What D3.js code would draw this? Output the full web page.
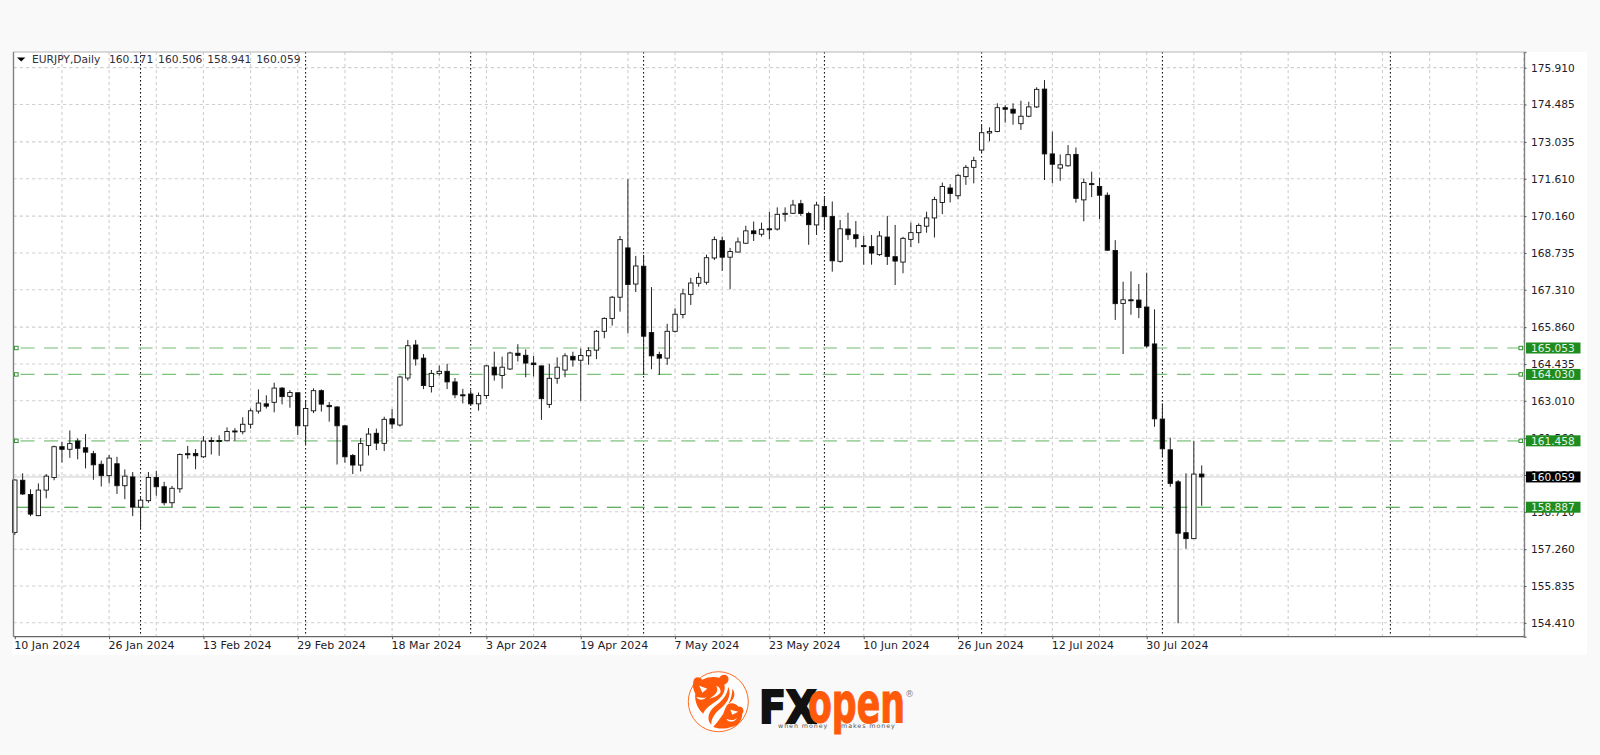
<!DOCTYPE html>
<html>
<head>
<meta charset="utf-8">
<script src="https://cdn.jsdelivr.net/npm/d3@7/dist/d3.min.js"></script>
<style>
html,body{margin:0;padding:0;background:#f9f9f9;overflow:hidden}
svg{display:block}
text{font-family:"DejaVu Sans",sans-serif}
</style>
</head>
<body>
<svg id="c" width="1600" height="755"></svg>
<script>
const symbolTitle = "EURJPY,Daily";
const headerValues = ["160.171","160.506","158.941","160.059"];
const priceTicks = [175.910,174.485,173.035,171.610,170.160,168.735,167.310,165.860,164.435,163.010,161.560,160.135,158.710,157.260,155.835,154.410];
const dateTickIndex = [0,12,24,36,48,60,72,84,96,108,120,132,144];
const dateTickLabels = ["10 Jan 2024","26 Jan 2024","13 Feb 2024","29 Feb 2024","18 Mar 2024","3 Apr 2024","19 Apr 2024","7 May 2024","23 May 2024","10 Jun 2024","26 Jun 2024","12 Jul 2024","30 Jul 2024"];
const periodSeparators = [16,37,58,80,103,123,146,175];
const levelValues = [165.053,164.030,161.458,158.887];
const lastPrice = 160.059;

const opens = [157.91,159.93,159.38,158.56,159.55,160.04,161.23,161.13,161.45,161.19,160.96,160.55,160.11,160.57,159.72,160.06,158.89,159.14,160.04,159.68,159.06,159.60,160.96,160.97,160.84,161.47,161.47,161.46,161.84,161.81,162.10,162.61,162.89,162.95,163.50,163.18,163.32,162.04,162.62,163.40,162.83,162.77,162.04,160.89,160.52,161.28,161.75,161.36,162.31,162.07,163.89,165.17,164.66,163.56,164.06,164.15,163.74,163.24,163.27,162.89,163.21,164.31,163.99,164.24,164.85,164.77,164.47,164.36,162.87,163.88,164.20,164.73,164.58,164.75,164.97,165.70,166.20,167.02,168.93,167.53,168.22,165.65,164.80,164.66,165.70,166.35,167.13,167.56,167.60,168.54,169.21,168.57,168.77,169.11,169.59,169.46,169.67,169.66,170.23,170.27,170.64,170.26,169.82,170.53,170.15,168.41,169.66,169.44,169.02,168.98,168.67,169.35,168.59,168.38,169.26,169.52,169.77,170.09,170.69,171.25,170.95,171.69,172.05,172.72,173.38,173.44,174.36,174.30,173.74,174.03,174.39,175.08,172.57,172.02,172.11,172.55,170.79,171.42,171.31,170.97,168.83,166.78,166.92,166.91,166.64,165.21,162.30,161.11,159.87,157.90,157.67,160.171];
const closes = [159.94,159.40,158.62,159.55,160.09,161.23,161.13,161.35,161.17,161.02,160.53,160.11,160.79,159.72,160.09,158.89,159.16,160.04,159.68,159.06,159.62,160.93,160.92,160.88,161.45,161.45,161.46,161.82,161.81,162.10,162.62,162.92,162.80,163.50,163.17,163.33,162.04,162.71,163.40,162.88,162.78,162.04,160.84,160.52,161.35,161.72,161.37,162.29,162.11,163.93,165.14,164.63,163.60,164.07,164.15,163.74,163.24,163.21,162.89,163.21,164.36,164.01,164.31,164.86,164.77,164.47,164.41,163.09,163.88,164.31,164.75,164.59,164.76,164.95,165.70,166.20,167.02,169.25,167.51,168.23,165.51,164.75,164.66,165.70,166.36,167.15,167.57,167.78,168.55,169.25,168.57,168.79,169.16,169.59,169.48,169.65,169.65,170.23,170.27,170.59,170.26,169.83,170.59,170.14,168.43,169.67,169.44,169.29,168.98,168.73,169.39,168.60,168.42,169.30,169.52,169.80,170.09,170.80,171.31,171.04,171.74,172.05,172.31,173.39,173.44,174.36,174.30,174.15,174.03,174.39,175.07,172.57,172.17,172.15,172.54,170.85,171.46,171.39,170.97,168.84,166.77,166.92,166.90,166.62,165.13,162.31,161.15,159.81,157.88,157.67,160.17,160.059];
const highs = [159.97,160.20,159.58,159.81,160.17,161.27,161.42,161.86,161.55,161.72,161.07,160.69,160.91,160.84,160.35,160.25,159.27,160.25,160.30,159.87,159.71,160.97,161.26,161.14,161.64,161.60,161.67,161.98,161.95,162.37,162.71,163.45,163.22,163.71,163.54,163.42,163.33,163.00,163.49,163.45,162.96,162.79,162.07,160.95,161.57,161.95,161.93,162.39,162.69,163.98,165.36,165.36,164.82,164.20,164.37,164.44,163.89,163.47,163.43,163.33,164.40,164.91,164.72,164.91,165.20,165.00,164.75,164.37,164.44,164.69,164.85,164.91,165.04,165.08,165.75,166.24,167.07,169.39,171.59,168.62,168.66,167.41,164.91,165.99,166.59,167.35,167.77,167.97,168.67,169.37,169.37,168.93,169.33,169.79,169.95,169.91,170.33,170.50,170.50,170.79,170.79,170.33,170.72,170.89,170.73,170.01,170.29,169.97,169.40,169.43,169.58,170.17,169.82,169.36,169.91,169.88,170.33,170.91,171.46,171.40,171.79,172.14,172.46,173.69,173.60,174.53,174.46,174.53,174.63,174.59,175.15,175.43,173.43,172.55,172.91,172.82,171.62,171.88,171.65,171.08,169.23,167.62,168.02,167.53,167.97,166.55,162.91,161.58,159.94,160.20,161.46,160.506];
const lows = [157.81,159.36,158.54,158.54,159.23,159.93,160.62,160.80,160.74,160.39,159.95,159.69,159.81,159.40,159.20,158.54,158.03,159.06,159.33,158.96,158.88,159.45,160.76,160.36,160.79,160.93,160.88,161.44,161.46,161.71,161.93,162.51,162.71,162.56,162.87,162.74,161.68,161.33,162.53,162.59,162.20,160.54,160.61,160.17,160.27,160.89,161.10,161.06,161.92,162.01,163.79,164.37,163.46,163.33,163.98,163.46,163.11,162.91,162.81,162.63,163.08,163.79,163.48,164.20,164.53,163.92,163.95,162.27,162.73,163.67,163.92,164.33,163.00,164.40,164.62,165.43,165.92,166.46,165.62,167.22,164.01,164.23,164.01,164.40,165.65,166.20,166.72,167.43,167.51,168.46,168.04,167.33,168.75,169.08,169.20,169.37,169.27,169.60,169.95,170.24,170.17,169.05,169.43,169.62,168.01,168.36,169.24,168.95,168.28,168.28,168.62,168.27,167.49,167.95,168.96,169.11,169.52,169.33,170.24,170.69,170.81,171.37,171.43,172.62,173.06,173.41,173.78,173.70,173.50,173.99,174.35,171.56,171.43,171.53,172.08,170.68,169.96,170.90,170.04,168.82,166.14,164.82,166.34,166.21,165.06,162.00,160.84,159.68,154.39,157.28,157.67,158.941];

const svg = d3.select("#c");
const leftX = 13.5, rightX = 1524, topY = 52, bottomY = 636.7;
const x = d3.scaleLinear().domain([0,151]).range([14.8,1201.7]);
const y = d3.scaleLinear().domain([153.872,176.517]).range([bottomY,topY]);
const lastIndexOnScreen = Math.floor(x.invert(rightX));
const bodyW = 4.4;

svg.append("rect").attr("x",leftX-1).attr("y",topY).attr("width",1587-leftX+1).attr("height",655-topY).attr("fill","#fff");
const chart = svg.append("g").style("filter","blur(0.3px)");

// grid
chart.append("g").selectAll("line").data(priceTicks).join("line")
  .attr("x1",leftX).attr("x2",rightX).attr("y1",d=>y(d)).attr("y2",d=>y(d))
  .attr("stroke","#cfcfcf").attr("stroke-width",1.1).attr("stroke-dasharray","3.2,3");
chart.append("g").selectAll("line").data(d3.range(6,lastIndexOnScreen+1,6)).join("line")
  .attr("x1",d=>x(d)).attr("x2",d=>x(d)).attr("y1",topY).attr("y2",bottomY)
  .attr("stroke","#cfcfcf").attr("stroke-width",1.1).attr("stroke-dasharray","3,3");

// period separators
chart.append("g").selectAll("line").data(periodSeparators).join("line")
  .attr("x1",d=>x(d)).attr("x2",d=>x(d)).attr("y1",topY).attr("y2",bottomY)
  .attr("stroke","#000").attr("stroke-width",1).attr("stroke-dasharray","1.6,2.4");

// bid line
chart.append("line").attr("x1",leftX).attr("x2",rightX).attr("y1",y(lastPrice)).attr("y2",y(lastPrice))
  .attr("stroke","#cccccc").attr("stroke-width",1);

// horizontal levels
const levelStroke = ["#a3d2a3","#7cc27c","#a3d2a3","#2f942f"];
const levelWidth = [1.7,1.2,1.7,1.1];
chart.append("g").selectAll("line").data(levelValues).join("line")
  .attr("x1",(d,i)=>i===3?leftX+3.5:leftX+7).attr("x2",rightX-4)
  .attr("y1",d=>y(d)).attr("y2",d=>y(d))
  .attr("stroke",(d,i)=>levelStroke[i]).attr("stroke-width",(d,i)=>levelWidth[i])
  .attr("stroke-dasharray","14,9.6").attr("stroke-dashoffset",0);
// anchors
const anchored = levelValues.slice(0,3);
chart.append("g").selectAll("rect").data(anchored.flatMap(v=>[[leftX+1,v],[rightX-5,v]])).join("rect")
  .attr("x",d=>d[0]).attr("y",d=>y(d[1])-1.7).attr("width",3.6).attr("height",3.4)
  .attr("fill","#fff").attr("stroke","#2f942f").attr("stroke-width",1);

// candles
const n = opens.length;
const cdata = d3.range(n);
chart.append("g").selectAll("line").data(cdata).join("line")
  .attr("x1",i=>x(i)).attr("x2",i=>x(i)).attr("y1",i=>y(highs[i])).attr("y2",i=>y(lows[i]))
  .attr("stroke","#222").attr("stroke-width",1);
chart.append("g").selectAll("rect").data(cdata).join("rect")
  .attr("x",i=>x(i)-bodyW/2)
  .attr("y",i=>y(Math.max(opens[i],closes[i])))
  .attr("width",bodyW)
  .attr("height",i=>Math.max(1,Math.abs(y(opens[i])-y(closes[i]))))
  .attr("fill",i=>closes[i]>=opens[i]?"#fff":"#000")
  .attr("stroke","#111").attr("stroke-width",0.9);

// frame
svg.append("path").attr("d",`M${leftX},${topY}H${rightX}`).attr("stroke","#b5b5b5").attr("stroke-width",1).attr("fill","none");

// axes
const yAxis = d3.axisRight(y).tickValues(priceTicks).tickSize(2.5).tickPadding(4.5).tickFormat(d3.format(".3f"));
const gy = svg.append("g").attr("transform",`translate(${rightX},0)`).call(yAxis);
gy.select(".domain").attr("stroke","#808080").attr("stroke-width",1.4);
gy.selectAll("text").attr("font-size",10.6).attr("fill","#1c1c2a").attr("font-family","DejaVu Sans");
gy.selectAll(".tick line").attr("stroke","#555");

const xAxis = d3.axisBottom(x).tickValues(dateTickIndex).tickSize(2.5).tickPadding(2).tickFormat((d,i)=>dateTickLabels[i]);
const gx = svg.append("g").attr("transform",`translate(0,${bottomY})`).call(xAxis);
gx.select(".domain").attr("d",`M${leftX},0H${rightX}`).attr("stroke","#666").attr("stroke-width",1.2);
gx.selectAll("text").attr("text-anchor","start").attr("dx",-1).attr("font-size",11).attr("fill","#1c1c2a").attr("font-family","DejaVu Sans");
gx.selectAll(".tick line").attr("stroke","#555");
svg.append("line").attr("x1",leftX).attr("x2",leftX).attr("y1",topY).attr("y2",bottomY).attr("stroke","#808080").attr("stroke-width",1.4);

// price tags
const tags = levelValues.map(v=>({v,fill:"#1f8c1f",txt:"#e4f3e4"})).concat([{v:lastPrice,fill:"#000",txt:"#f2f2f2"}]);
const tagG = svg.append("g").selectAll("g").data(tags).join("g").attr("transform",d=>`translate(1526,${y(d.v)})`);
tagG.append("rect").attr("x",0).attr("y",-5.5).attr("width",54.5).attr("height",11).attr("fill",d=>d.fill);
tagG.append("text").attr("x",5).attr("dy","0.36em").attr("font-size",10.6).attr("fill",d=>d.txt).text(d=>d.v.toFixed(3));

// header
svg.append("path").attr("d",d3.line()([[17,57.5],[25.3,57.5],[21.2,61.5]])+"Z").attr("fill","#000");
svg.append("text").attr("x",32).attr("y",62.5).attr("font-size",10.7).attr("fill","#30303c").text(symbolTitle);
svg.append("g").selectAll("text").data(headerValues).join("text")
  .attr("x",(d,i)=>109+i*49.1).attr("y",62.5).attr("font-size",10.7).attr("fill","#30303c").text(d=>d);

// logo
const orange = "#ff5a0a";
const logo = svg.append("g").attr("transform","translate(718.3,701.7)");
logo.append("circle").attr("r",30).attr("fill","#fff").attr("stroke",orange).attr("stroke-width",0.9);
logo.append("path").attr("fill",orange).attr("d","M-25,-20 C-24,-26 -18,-25 -16,-22 C-10,-25 -4,-25 1,-24 C3,-28 9,-28 10,-24 C11,-20 8,-18 6,-17 C8,-10 3,-4 -3,0 C-9,4 -14,8 -15,12 C-20,8 -24,0 -23,-8 C-25,-12 -26,-16 -25,-20Z");
logo.append("path").attr("fill",orange).attr("d","M10,-15 C14,-6 8,2 2,7 C-3,11 -7,16 -7,23 C-12,18 -10,10 -4,5 C3,0 9,-6 10,-15Z");
logo.append("path").attr("fill",orange).attr("d","M9,3 C13,0 18,2 20,5 C24,4 27,9 24,12 C24,18 20,24 14,25 C6,28 -2,27 -5,25 C-1,21 2,16 5,12 C6,9 7,6 9,3Z");
logo.append("path").attr("fill",orange).attr("d","M14,-13 C18,-8 16,-2 10,2 C13,-3 14,-8 14,-13Z");
logo.append("path").attr("fill","#fff").attr("d","M-19,-16 L-11,-13 L-16,-9 Z M-22,-5 C-18,-4 -14,-3 -12,-5 C-14,-1 -20,-1 -22,-5Z M12,8 L20,10 L14,13Z M8,17 C12,19 16,19 19,16 C16,21 10,21 8,17Z");
logo.append("path").attr("fill","#fff").attr("d","M-2,-16 C1,-10 -3,-7 -9,-3 C-5,-4 0,-6 2,-9 C3,-12 1,-15 -2,-16Z");

const fxText = svg.append("g").attr("transform","translate(759,722.5) scale(0.9,1)");
fxText.append("text").attr("font-family","Liberation Sans").attr("font-weight",700).attr("font-size",44).attr("fill","#111").attr("stroke","#111").attr("stroke-width",2).text("FX");
const openText = svg.append("g").attr("transform","translate(808,721.5) scale(0.62,1)");
openText.append("text").attr("font-family","Liberation Sans").attr("font-weight",700).attr("font-size",56).attr("fill",orange).attr("stroke",orange).attr("stroke-width",1.2).text("open");
svg.append("text").attr("x",778).attr("y",728).attr("font-family","DejaVu Sans").attr("font-size",6.4).attr("letter-spacing",0.9).attr("fill","#555").text("when money");
svg.append("text").attr("x",841).attr("y",728).attr("font-family","DejaVu Sans").attr("font-size",6.4).attr("letter-spacing",0.9).attr("fill","#555").text("makes money");
svg.append("text").attr("x",905).attr("y",697).attr("font-family","DejaVu Sans").attr("font-size",9).attr("fill","#888").text("®");
</script>
</body>
</html>
